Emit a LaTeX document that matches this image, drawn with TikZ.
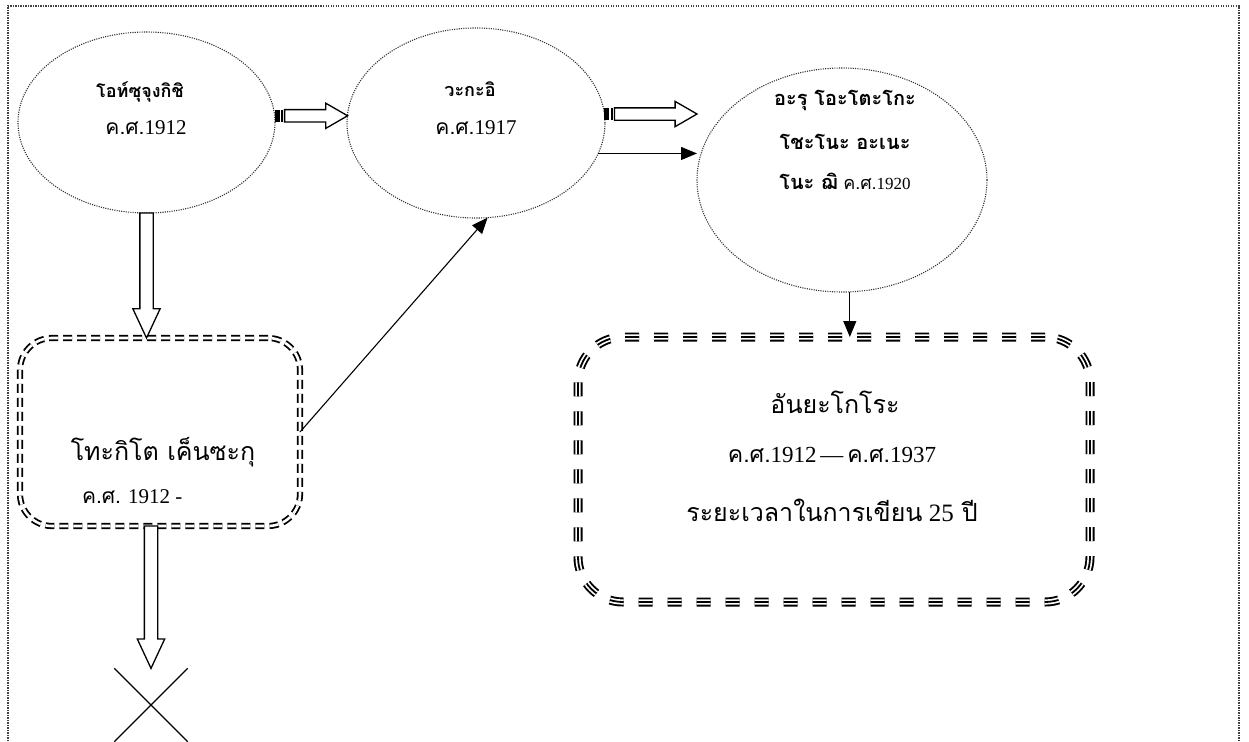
\documentclass[tikz,border=0pt]{standalone}
\usepackage{fontspec}
\setmainfont{Liberation Serif}
\newfontfamily\thaif[Script=Thai]{Loma}
\usetikzlibrary{shapes.geometric,shapes.arrows,shapes.misc,calc,arrows.meta}

\tikzset{
  frame/.style={line width=1.2pt, black!75, dash pattern=on 1.2pt off 1.3pt},
  bubble/.style={ellipse, draw=black!80, line width=1.1pt, dash pattern=on 1.1pt off 1.2pt,
    inner sep=0pt, outer sep=0pt},
  dbox/.style={rectangle, draw, rounded corners=32pt, double, double distance=2.6pt,
    line width=1.8pt, dash pattern=on 9pt off 5pt, inner sep=0pt, outer sep=0pt},
  tbox/.style={rectangle, draw, rounded corners=45pt, line width=9pt,
    dash pattern=on 14pt off 15pt, inner sep=0pt, outer sep=0pt,
    postaction={draw=white, line width=5.2pt, dash pattern=on 14pt off 15pt},
    postaction={draw=black, line width=1.8pt, dash pattern=on 14pt off 15pt}},
  hollow/.style={single arrow, draw, line width=1.3pt, fill=white, inner xsep=0pt,
    inner ysep=5.5pt, outer sep=0pt, single arrow head extend=6.5pt,
    single arrow tip angle=60, minimum width=0pt},
  vhollow/.style={single arrow, draw, line width=1.3pt, fill=white, inner xsep=6pt,
    inner ysep=0pt, outer sep=0pt, single arrow head extend=7pt,
    single arrow tip angle=50, minimum width=0pt, shape border rotate=270},
  thin/.style={line width=1.1pt, -{Triangle[length=16pt,width=13pt]}},
  lbl/.style={inner sep=0pt, outer sep=0pt},
  stripe/.style={fill=black}
}
\newcommand\ellfont{\fontsize{18}{22}\selectfont}
\newcommand\threefont{\fontsize{20}{24}\selectfont}
\newcommand\datefont{\fontsize{21}{24}\selectfont}
\newcommand\bigdatefont{\fontsize{23}{26}\selectfont}
\newcommand\boxfont{\fontsize{25}{28}\selectfont}

\begin{document}
\begin{tikzpicture}[x=1pt,y=-1pt]
\useasboundingbox (0,0) rectangle (1249,741);

% page frame, open at the bottom
\draw[frame] (8,741) -- (8,6) -- (1239,6) -- (1239,741);

% ellipses
\node[bubble, minimum width=257pt, minimum height=181pt] (e1) at (146.5,122.5) {};
\node[bubble, minimum width=258pt, minimum height=190pt] (e2) at (476,123) {};
\node[bubble, minimum width=290pt, minimum height=224pt] (e3) at (842,180) {};

% boxes
\node[dbox, minimum width=280pt, minimum height=188pt] (lb) at (160,432) {};
\node[tbox, minimum width=512pt, minimum height=265pt] (rb) at (834,469.5) {};

% cross at the end of the left branch
\node[cross out, draw, line width=1.3pt, minimum size=72pt, inner sep=0pt] (xm) at (151,705) {};

% texts
\node[lbl] (t1a) at (140,92) {\ellfont\bfseries\thaif โอท์ซุจุงกิชิ};
\node[lbl] (t1b) at (146,128) {\datefont{\thaif ค.ศ.}1912};
\node[lbl] (t2a) at (470,89) {\ellfont\bfseries\thaif วะกะอิ};
\node[lbl] (t2b) at (476,128) {\datefont{\thaif ค.ศ.}1917};
\node[lbl] (t3a) at (845,100) {\threefont\bfseries\thaif อะรุ โอะโตะโกะ};
\node[lbl] (t3b) at (845,142) {\threefont\bfseries\thaif โชะโนะ อะเนะ};
\node[lbl] (t3c) at (845,181) {\threefont{\bfseries\thaif โนะ ฌิ} {\fontsize{18}{20}\selectfont\thaif ค.ศ.}{\fontsize{17}{20}\selectfont 1920}};
\node[lbl] (t4a) at (163,452) {\boxfont\thaif โทะกิโต เค็นซะกุ};
\node[lbl, anchor=west] (t4b) at (82,497) {\datefont{\thaif ค.ศ.} 1912 -};
\node[lbl] (t5a) at (835,402) {\boxfont\thaif อันยะโกโระ};
\node[lbl] (t5b) at (832,455) {\bigdatefont{\thaif ค.ศ.}1912\,—\,{\thaif ค.ศ.}1937};
\node[lbl] (t5c) at (832,510) {\boxfont{\thaif ระยะเวลาในการเขียน} 25\hspace{8pt}{\thaif ปี}};

% striped hollow arrows between the ellipses
\path let \p1=(e1.3.4), \p2=(e2.176.4) in
  node[hollow, anchor=tail, minimum height={\x2-\x1-10pt}] (a1) at (\x1+10pt,\y1) {};
\fill[stripe] ($(a1.before tail)+(-10,0)$) rectangle ($(a1.after tail)+(-5,0)$);
\fill[stripe] ($(a1.before tail)+(-3.5,0)$) rectangle ($(a1.after tail)+(-1.5,0)$);

\path let \p1=(e2.4.5), \p2=(e3.west) in
  node[hollow, anchor=tail, minimum height={\x2-\x1-10pt}] (a2) at (\x1+10pt,\y1) {};
\fill[stripe] ($(a2.before tail)+(-10,0)$) rectangle ($(a2.after tail)+(-5,0)$);
\fill[stripe] ($(a2.before tail)+(-3.5,0)$) rectangle ($(a2.after tail)+(-1.5,0)$);

% hollow arrows down the left branch
\path let \p1=(e1.south), \p2=(lb.north) in
  node[vhollow, anchor=tail, minimum height={\y1-\y2}] (a3) at (\x1,\y1) {};
\path let \p1=(lb.south), \p2=(xm.north), \p3=(xm.center) in
  node[vhollow, anchor=tail, minimum height={\y1-\y2}] (a4) at (\x3,\y1) {};

% thin arrows
\draw[thin] (e2.-14) -- (e2.-14 -| e3.west);
\draw[thin] (lb.east) -- (e2.-83.4);
\draw[thin] (e3.-86) -- (e3.-86 |- rb.north);
\end{tikzpicture}
\end{document}
